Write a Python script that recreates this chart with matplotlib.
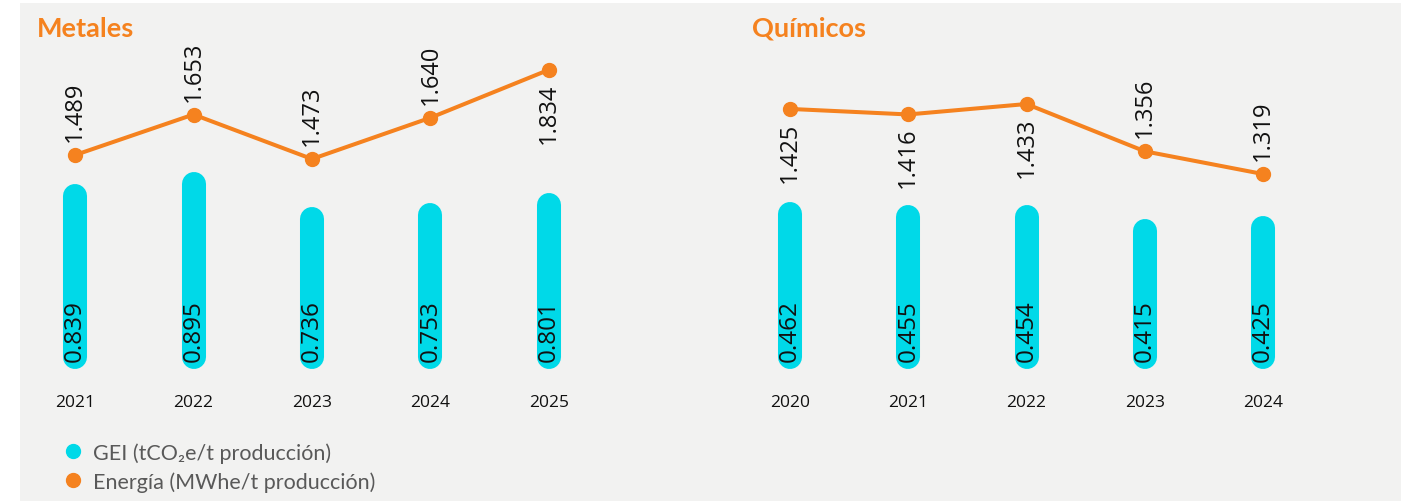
import matplotlib.pyplot as plt
from matplotlib.lines import Line2D
from matplotlib.patches import Rectangle

# Intensidades por año
met_years = ['2021', '2022', '2023', '2024', '2025']
met_gei = [0.839, 0.895, 0.736, 0.753, 0.801]
met_energia = [1.489, 1.653, 1.473, 1.640, 1.834]

qui_years = ['2020', '2021', '2022', '2023', '2024']
qui_gei = [0.462, 0.455, 0.454, 0.415, 0.425]
qui_energia = [1.425, 1.416, 1.433, 1.356, 1.319]

legend_labels = ['GEI (tCO₂e/t producción)', 'Energía (MWhe/t producción)']

CYAN = '#00d9e8'
ORANGE = '#f5821f'
BG = '#f2f2f1'
NUM_FONT = ['Open Sans', 'DejaVu Sans']
TXT_FONT = ['Lato', 'DejaVu Sans']

W, H = 1401, 502
fig = plt.figure(figsize=(W / 100, H / 100), dpi=100)
fig.patch.set_facecolor('white')
fig.patches.append(Rectangle((20 / W, 0), 1, (H - 4) / H, transform=fig.transFigure,
                             facecolor=BG, edgecolor='none', zorder=-10))


def px_axes(left, top, width, height):
    return fig.add_axes([left / W, 1 - (top + height) / H, width / W, height / H])


def clean(ax):
    ax.patch.set_visible(False)
    for s in ax.spines.values():
        s.set_visible(False)
    ax.set_yticks([])


def panel(center0, step, title, years, gei, energia, gei_top, en_lim, en_side):
    base = 370
    ax = px_axes(center0 - step / 2, 0, step * 5, base)
    ax.set_xlim(-0.5, 4.5)
    ax.set_ylim(0, gei_top)
    clean(ax)

    # rounded bars: thick lines with round caps
    r = 12 * gei_top / base
    for i, v in enumerate(gei):
        ax.plot([i, i], [r, v - r], color=CYAN, lw=17.3, solid_capstyle='round', zorder=2)
        ax.annotate(f'{v:.3f}', (i, 0), xytext=(0, 6), textcoords='offset points',
                    rotation=90, ha='center', va='bottom', fontsize=17.5,
                    family=NUM_FONT, color='#111111', zorder=3)
    ax.set_xticks(range(len(years)), years)
    ax.tick_params(axis='x', length=0, pad=18, labelsize=12.5, labelcolor='#111111')
    for lbl in ax.get_xticklabels():
        lbl.set_family(NUM_FONT)

    ax2 = ax.twinx()
    ax2.set_ylim(*en_lim)
    clean(ax2)
    ax2.plot(range(len(energia)), energia, color=ORANGE, lw=2.9, marker='o', ms=10,
             solid_capstyle='round')
    for i, (v, side) in enumerate(zip(energia, en_side)):
        up = side == 'above'
        ax2.annotate(f'{v:.3f}', (i, v), xytext=(0, 10 if up else -9),
                     textcoords='offset points', rotation=90, ha='center',
                     va='bottom' if up else 'top', fontsize=17, family=NUM_FONT,
                     color='#111111')

    fig.text((center0 - 38) / W, 1 - 37 / H, title, color=ORANGE, fontsize=19.5,
             fontweight='bold', family=TXT_FONT, va='baseline')


panel(75, 118.5, 'Metales', met_years, met_gei, met_energia, 1.682, (0.624, 2.120),
      ['above', 'above', 'above', 'above', 'below'])
panel(790, 118.25, 'Químicos', qui_years, qui_gei, qui_energia, 1.025, (1.0015, 1.604),
      ['below', 'below', 'below', 'above', 'above'])

# leyenda
for y, color, label in zip([452, 481], [CYAN, ORANGE], legend_labels):
    fig.add_artist(Line2D([73 / W], [1 - y / H], marker='o', ls='none', color=color,
                          ms=10, transform=fig.transFigure))
    fig.text(93 / W, 1 - y / H, label, va='center_baseline', ha='left', fontsize=15.5,
             color='#595959', family=TXT_FONT)

fig.savefig('out.png', dpi=100)
